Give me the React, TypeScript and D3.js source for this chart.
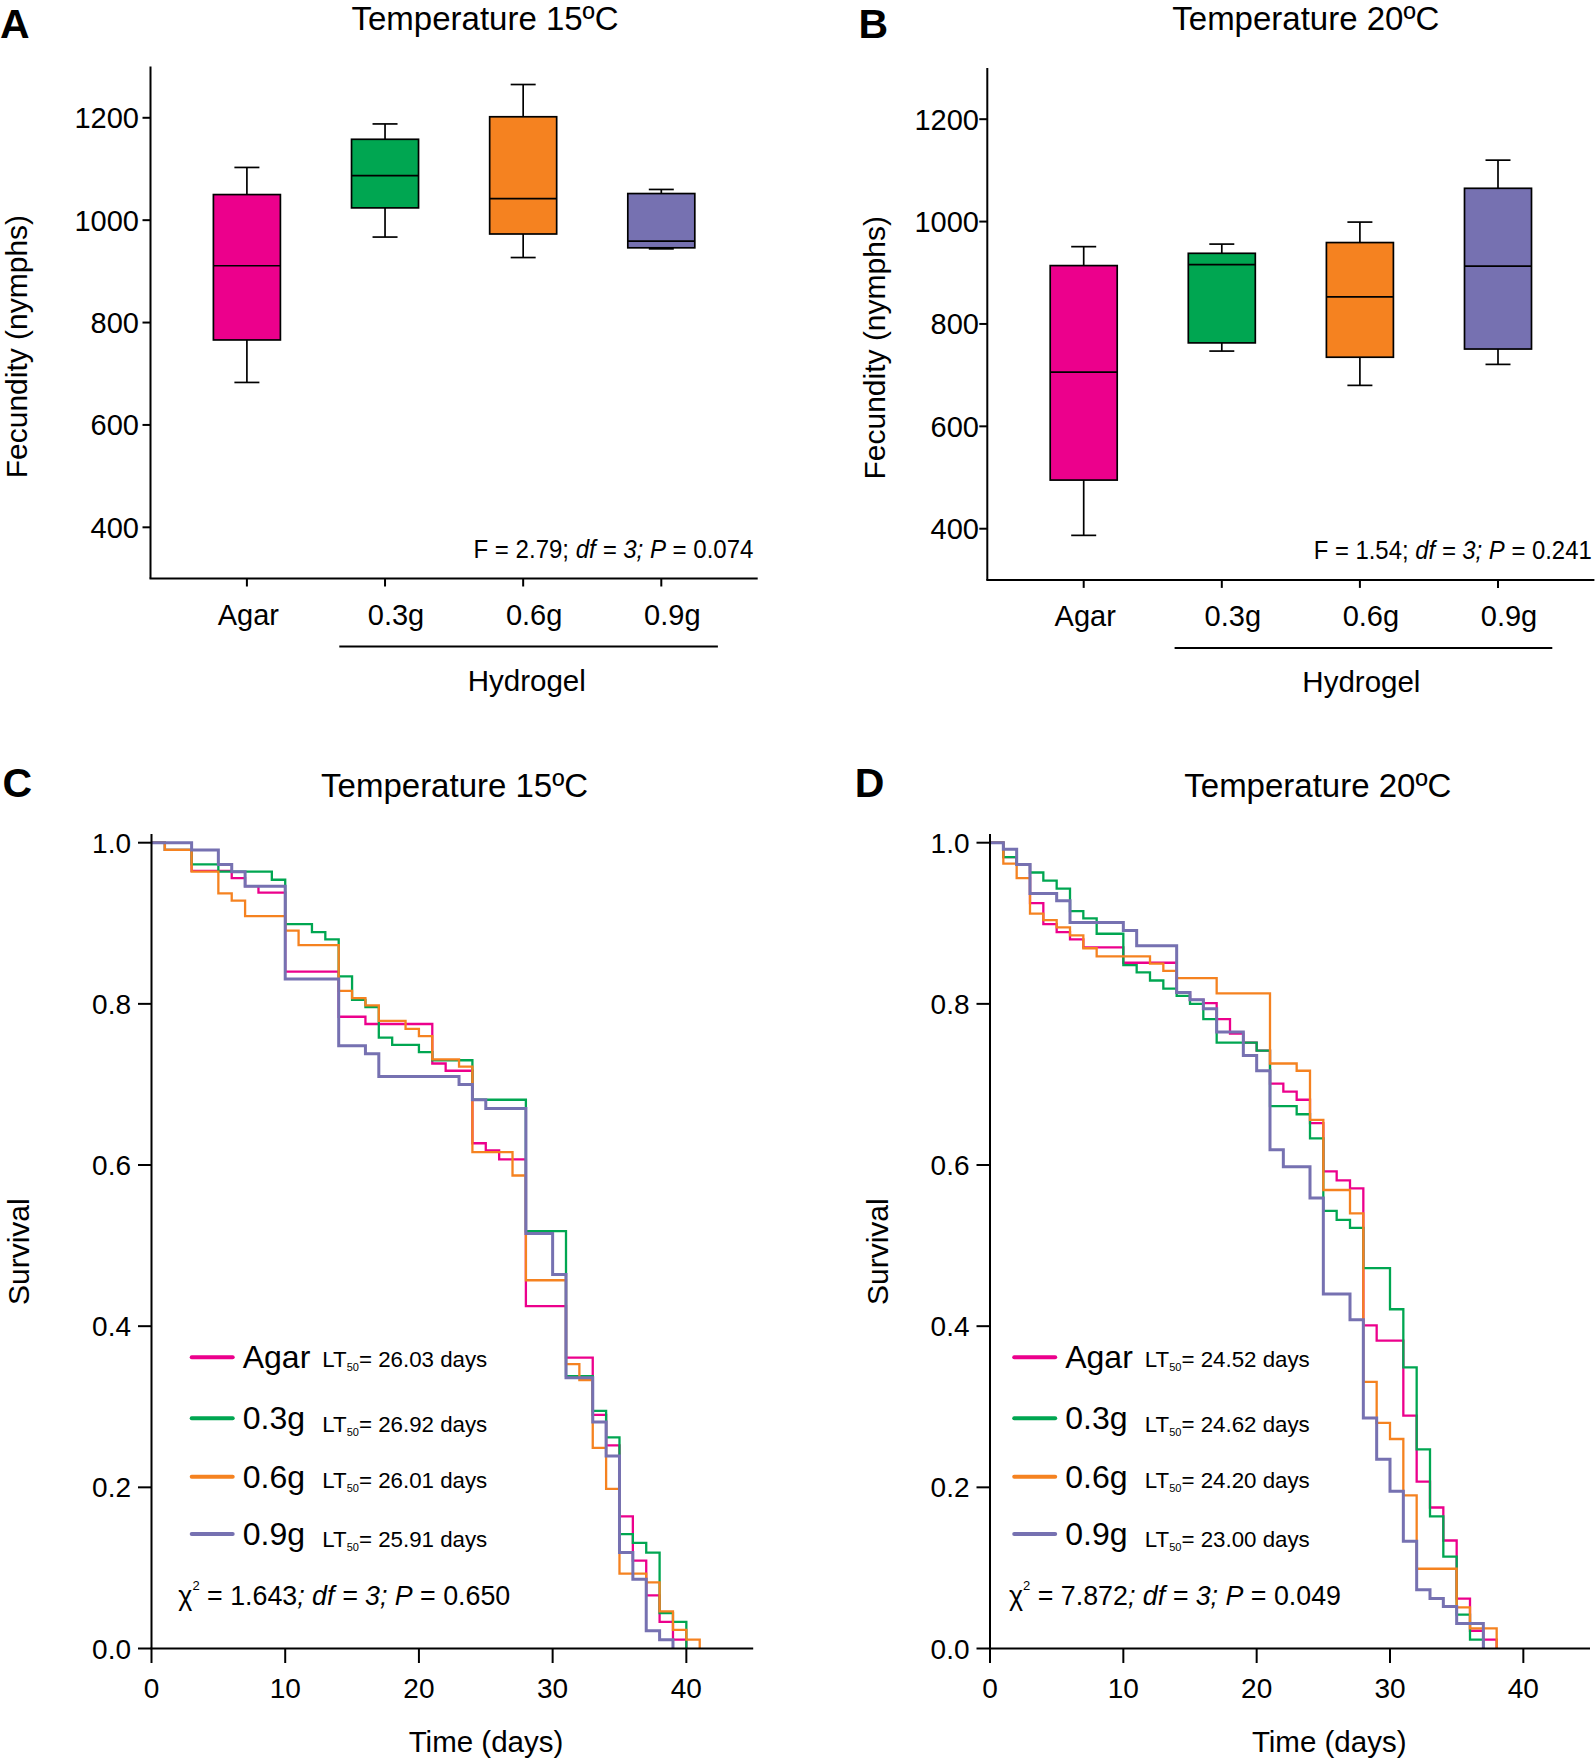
import React from "react";
import * as d3 from "d3";

const FONT = "'Liberation Sans', Arial, Helvetica, sans-serif";

// ---------- Fecundity box plots ----------
const categories = ["Agar", "0.3g", "0.6g", "0.9g"];
const colors = ["#EC008C", "#00A651", "#F58220", "#7671B1"];
const fecundityTicks = [400, 600, 800, 1000, 1200];

// Panel A (15ºC)
const a15Min = [683, 967, 927, 944];
const a15Q1 = [766, 1024, 973, 946];
const a15Median = [911, 1087, 1042, 959];
const a15Q3 = [1050, 1158, 1202, 1052];
const a15Max = [1103, 1188, 1265, 1060];

// Panel B (20ºC)
const b20Min = [387, 747, 680, 721];
const b20Q1 = [495, 763, 735, 751];
const b20Median = [706, 916, 853, 913];
const b20Q3 = [914, 938, 959, 1065];
const b20Max = [951, 956, 999, 1120];

// ---------- Survival curves (value after each day, day 0..end) ----------
const survivalTicks = [0, 0.2, 0.4, 0.6, 0.8, 1.0];
const dayTicks = [0, 10, 20, 30, 40];
const seriesNames = ["Agar", "0.3g", "0.6g", "0.9g"];

const c15Agar = [1, 0.991, 0.991, 0.965, 0.965, 0.965, 0.956, 0.946, 0.938, 0.938, 0.84, 0.84, 0.84, 0.84, 0.784, 0.784, 0.775, 0.775, 0.775, 0.775, 0.775, 0.726, 0.717, 0.717, 0.627, 0.618, 0.607, 0.607, 0.425, 0.425, 0.425, 0.361, 0.361, 0.29, 0.252, 0.164, 0.109, 0.066, 0.033, 0.011, 0];
const c15G03 = [1, 0.991, 0.991, 0.973, 0.973, 0.964, 0.964, 0.964, 0.964, 0.954, 0.899, 0.899, 0.889, 0.88, 0.834, 0.805, 0.796, 0.758, 0.749, 0.749, 0.74, 0.73, 0.73, 0.73, 0.681, 0.681, 0.681, 0.681, 0.518, 0.518, 0.518, 0.338, 0.338, 0.295, 0.262, 0.142, 0.131, 0.119, 0.044, 0.033, 0];
const c15G06 = [1, 0.991, 0.991, 0.964, 0.964, 0.937, 0.928, 0.909, 0.909, 0.909, 0.891, 0.873, 0.873, 0.873, 0.816, 0.807, 0.798, 0.779, 0.779, 0.769, 0.76, 0.731, 0.731, 0.722, 0.616, 0.616, 0.616, 0.587, 0.457, 0.457, 0.457, 0.353, 0.333, 0.249, 0.198, 0.093, 0.093, 0.082, 0.046, 0.023, 0.011, 0];
const c15G09 = [1, 1, 1, 0.991, 0.991, 0.973, 0.964, 0.946, 0.946, 0.946, 0.831, 0.831, 0.831, 0.831, 0.748, 0.748, 0.738, 0.71, 0.71, 0.71, 0.71, 0.71, 0.71, 0.7, 0.681, 0.67, 0.67, 0.67, 0.515, 0.515, 0.464, 0.336, 0.336, 0.281, 0.239, 0.119, 0.086, 0.022, 0.011, 0];

const d20Agar = [1, 0.982, 0.973, 0.925, 0.899, 0.889, 0.88, 0.87, 0.87, 0.87, 0.851, 0.851, 0.851, 0.851, 0.814, 0.805, 0.801, 0.781, 0.763, 0.752, 0.742, 0.701, 0.691, 0.681, 0.652, 0.592, 0.581, 0.571, 0.401, 0.382, 0.382, 0.289, 0.207, 0.175, 0.134, 0.062, 0.022, 0.011, 0];
const d20G03 = [1, 0.982, 0.973, 0.963, 0.953, 0.943, 0.915, 0.906, 0.887, 0.887, 0.848, 0.839, 0.829, 0.819, 0.81, 0.8, 0.781, 0.752, 0.752, 0.752, 0.742, 0.673, 0.673, 0.663, 0.633, 0.543, 0.532, 0.522, 0.472, 0.472, 0.421, 0.349, 0.247, 0.164, 0.114, 0.042, 0.011, 0];
const d20G06 = [1, 0.974, 0.956, 0.912, 0.904, 0.895, 0.885, 0.869, 0.859, 0.859, 0.859, 0.859, 0.85, 0.841, 0.832, 0.832, 0.832, 0.813, 0.813, 0.813, 0.813, 0.726, 0.726, 0.717, 0.656, 0.569, 0.569, 0.54, 0.331, 0.28, 0.26, 0.19, 0.099, 0.099, 0.099, 0.051, 0.025, 0.025, 0];
const d20G09 = [1, 0.992, 0.973, 0.937, 0.937, 0.928, 0.901, 0.901, 0.901, 0.901, 0.891, 0.872, 0.872, 0.872, 0.814, 0.805, 0.794, 0.765, 0.765, 0.736, 0.717, 0.619, 0.598, 0.598, 0.559, 0.44, 0.44, 0.408, 0.286, 0.235, 0.195, 0.133, 0.073, 0.062, 0.052, 0.031, 0.031, 0];

const lt15 = ["26.03", "26.92", "26.01", "25.91"];
const lt20 = ["24.52", "24.62", "24.20", "23.00"];

// ---------- Components ----------
type BoxLayout = {
  axisX: number; axisEnd: number; top: number; bottom: number;
  tickLabelRight: number; labelX: number; titleX: number;
  yLabelX: number; yLabelY: number; hydroX0: number; hydroX1: number; hydroTextX: number;
  statX: number; statY: number; statLen: number;
};

function FecundityPanel(props: {
  L: BoxLayout; letter: string; title: string;
  mins: number[]; q1s: number[]; meds: number[]; q3s: number[]; maxs: number[];
  fVal: string; pVal: string;
}) {
  const { L } = props;
  const y = d3.scaleLinear().domain([300, 1300]).range([L.bottom, L.top]);
  const x = d3.scalePoint<string>().domain(categories).range([L.axisX + 96.4, L.axisEnd - 96.4]);
  const boxW = 67;
  const capW = 25;
  return (
    <g>
      <text x={L.labelX} y={37.5} fontSize={41} fontWeight="bold" fontFamily={FONT}>{props.letter}</text>
      <text x={L.titleX} y={30} fontSize={33} textAnchor="middle" fontFamily={FONT}>{props.title}</text>
      <text transform={`translate(${L.yLabelX},${L.yLabelY}) rotate(-90)`} fontSize={30} textAnchor="middle" fontFamily={FONT}>Fecundity (nymphs)</text>
      {/* axes */}
      <line x1={L.axisX} x2={L.axisX} y1={L.top} y2={L.bottom} stroke="#000" strokeWidth={2} />
      <line x1={L.axisX - 1} x2={L.axisEnd} y1={L.bottom} y2={L.bottom} stroke="#000" strokeWidth={2} />
      {fecundityTicks.map((t) => (
        <g key={t}>
          <line x1={L.axisX - 8} x2={L.axisX} y1={y(t)} y2={y(t)} stroke="#000" strokeWidth={2} />
          <text x={L.tickLabelRight} y={y(t)} dy="0.36em" fontSize={29} textAnchor="end" fontFamily={FONT}>{t}</text>
        </g>
      ))}
      {categories.map((c, i) => {
        const cx = x(c)!;
        return (
          <g key={c}>
            <line x1={cx} x2={cx} y1={L.bottom} y2={L.bottom + 8} stroke="#000" strokeWidth={2} />
            <text x={cx + (i === 0 ? 1.5 : 11)} y={L.bottom + 46} fontSize={29} textAnchor="middle" fontFamily={FONT}>{c}</text>
            {/* whiskers */}
            <line x1={cx} x2={cx} y1={y(props.maxs[i])} y2={y(props.q3s[i])} stroke="#000" strokeWidth={1.7} />
            <line x1={cx} x2={cx} y1={y(props.q1s[i])} y2={y(props.mins[i])} stroke="#000" strokeWidth={1.7} />
            <line x1={cx - capW / 2} x2={cx + capW / 2} y1={y(props.maxs[i])} y2={y(props.maxs[i])} stroke="#000" strokeWidth={1.7} />
            <line x1={cx - capW / 2} x2={cx + capW / 2} y1={y(props.mins[i])} y2={y(props.mins[i])} stroke="#000" strokeWidth={1.7} />
            <rect x={cx - boxW / 2} width={boxW} y={y(props.q3s[i])} height={y(props.q1s[i]) - y(props.q3s[i])} fill={colors[i]} stroke="#000" strokeWidth={1.7} />
            <line x1={cx - boxW / 2} x2={cx + boxW / 2} y1={y(props.meds[i])} y2={y(props.meds[i])} stroke="#000" strokeWidth={1.7} />
          </g>
        );
      })}
      <line x1={L.hydroX0} x2={L.hydroX1} y1={L.bottom + 68} y2={L.bottom + 68} stroke="#000" strokeWidth={2} />
      <text x={L.hydroTextX} y={L.bottom + 112} fontSize={29.5} textAnchor="middle" fontFamily={FONT}>Hydrogel</text>
      <text x={L.statX} y={L.statY} fontSize={25} fontFamily={FONT} textLength={L.statLen} lengthAdjust="spacingAndGlyphs">
        <tspan>{`F = ${props.fVal}; `}</tspan>
        <tspan fontStyle="italic">df = 3; P</tspan>
        <tspan>{` = ${props.pVal}`}</tspan>
      </text>
    </g>
  );
}

type SurvLayout = {
  axisX: number; x0: number; x45: number; labelX: number; titleX: number;
  yLabelX: number; timeX: number; legX: number; chiX: number;
};

function SurvivalPanel(props: {
  L: SurvLayout; letter: string; title: string; series: number[][]; lts: string[];
  chi: string; pVal: string;
}) {
  const { L } = props;
  const x = d3.scaleLinear().domain([0, 45]).range([L.x0, L.x45]);
  const y = d3.scaleLinear().domain([0, 1]).range([1648.5, 842.7]);
  const line = d3.line<number>().x((_, i) => x(i)).y((d) => y(d)).curve(d3.curveStepAfter);
  const order = [0, 1, 2, 3];
  const legendY = [1357.3, 1418.3, 1476.7, 1534];
  const ltY = [1366.7, 1431.7, 1488.3, 1546.7];
  const fmt = d3.format(".1f");
  return (
    <g>
      <text x={L.labelX} y={797} fontSize={41} fontWeight="bold" fontFamily={FONT}>{props.letter}</text>
      <text x={L.titleX} y={797} fontSize={33} textAnchor="middle" fontFamily={FONT}>{props.title}</text>
      <text transform={`translate(${L.yLabelX},1251.7) rotate(-90)`} fontSize={30} textAnchor="middle" fontFamily={FONT}>Survival</text>
      <text x={L.timeX} y={1752} fontSize={29.5} textAnchor="middle" fontFamily={FONT}>Time (days)</text>
      {order.map((i) => (
        <path key={i} d={line(props.series[i]) || ""} fill="none" stroke={colors[i]} strokeWidth={i === 3 ? 3 : 2.3} />
      ))}
      <line x1={L.axisX} x2={L.axisX} y1={834} y2={1648.5} stroke="#000" strokeWidth={2} />
      <line x1={L.axisX - 1} x2={L.x45} y1={1648.5} y2={1648.5} stroke="#000" strokeWidth={2} />
      {survivalTicks.map((t) => (
        <g key={t}>
          <line x1={L.axisX - 13.5} x2={L.axisX} y1={y(t)} y2={y(t)} stroke="#000" strokeWidth={2} />
          <text x={L.axisX - 20.5} y={y(t)} dy="0.36em" fontSize={28} textAnchor="end" fontFamily={FONT}>{fmt(t)}</text>
        </g>
      ))}
      {dayTicks.map((t) => (
        <g key={t}>
          <line x1={x(t)} x2={x(t)} y1={1648.5} y2={1663} stroke="#000" strokeWidth={2} />
          <text x={x(t)} y={1698.3} fontSize={28} textAnchor="middle" fontFamily={FONT}>{t}</text>
        </g>
      ))}
      {seriesNames.map((n, i) => (
        <g key={n}>
          <line x1={L.legX} x2={L.legX + 41} y1={legendY[i]} y2={legendY[i]} stroke={colors[i]} strokeWidth={4} strokeLinecap="round" />
          <text x={L.legX + 51} y={legendY[i] + 11} fontSize={32} fontFamily={FONT}>{n}</text>
          <text x={L.legX + 130.6} y={ltY[i]} fontSize={22.3} fontFamily={FONT}>
            LT<tspan fontSize={11} dy={4}>50</tspan><tspan dy={-4}>{`= ${props.lts[i]} days`}</tspan>
          </text>
        </g>
      ))}
      <text x={L.chiX} y={1605} fontSize={26.8} fontFamily={FONT}>
        <tspan>χ</tspan>
        <tspan fontSize={13} dy={-15}>2</tspan>
        <tspan dy={15}>{` = ${props.chi}`}</tspan>
        <tspan fontStyle="italic">; df = 3; P</tspan>
        <tspan>{` = ${props.pVal}`}</tspan>
      </text>
    </g>
  );
}

export default function App() {
  const LA: BoxLayout = {
    axisX: 150.5, axisEnd: 757.7, top: 66.6, bottom: 578.5, tickLabelRight: 139,
    labelX: 0, titleX: 485, yLabelX: 26.5, yLabelY: 346.6,
    hydroX0: 339.3, hydroX1: 717.9, hydroTextX: 526.8,
    statX: 473.5, statY: 557.8, statLen: 280,
  };
  const LB: BoxLayout = {
    axisX: 987.3, axisEnd: 1594.4, top: 68, bottom: 579.9, tickLabelRight: 979,
    labelX: 858.4, titleX: 1305.8, yLabelX: 885.3, yLabelY: 347.8,
    hydroX0: 1174.6, hydroX1: 1552.3, hydroTextX: 1361.4,
    statX: 1313.7, statY: 559.2, statLen: 278,
  };
  const LC: SurvLayout = {
    axisX: 151.5, x0: 151.5, x45: 753.2, labelX: 2.5, titleX: 454.6,
    yLabelX: 29, timeX: 486, legX: 191.7, chiX: 178.3,
  };
  const LD: SurvLayout = {
    axisX: 990, x0: 990, x45: 1590, labelX: 854.8, titleX: 1317.8,
    yLabelX: 888, timeX: 1329.2, legX: 1014.2, chiX: 1009,
  };
  return (
    <svg width={1596} height={1759} viewBox="0 0 1596 1759" style={{ position: "absolute", left: 0, top: 0, background: "#fff" }}>
      <rect x={0} y={0} width={1596} height={1759} fill="#fff" />
      <FecundityPanel L={LA} letter="A" title="Temperature 15ºC" mins={a15Min} q1s={a15Q1} meds={a15Median} q3s={a15Q3} maxs={a15Max} fVal="2.79" pVal="0.074" />
      <FecundityPanel L={LB} letter="B" title="Temperature 20ºC" mins={b20Min} q1s={b20Q1} meds={b20Median} q3s={b20Q3} maxs={b20Max} fVal="1.54" pVal="0.241" />
      <SurvivalPanel L={LC} letter="C" title="Temperature 15ºC" series={[c15Agar, c15G03, c15G06, c15G09]} lts={lt15} chi="1.643" pVal="0.650" />
      <SurvivalPanel L={LD} letter="D" title="Temperature 20ºC" series={[d20Agar, d20G03, d20G06, d20G09]} lts={lt20} chi="7.872" pVal="0.049" />
    </svg>
  );
}
